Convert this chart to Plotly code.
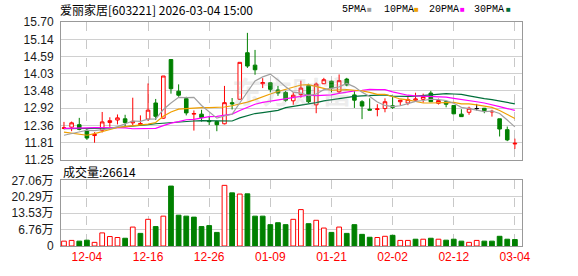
import plotly.graph_objects as go

# ---------------- data ----------------
dates = ["12-01","12-02","12-03","12-04","12-05","12-08","12-09","12-10","12-11","12-12",
         "12-15","12-16","12-17","12-18","12-19","12-22","12-23","12-24","12-25","12-26",
         "12-29","12-30","12-31","01-05","01-06","01-07","01-08","01-09","01-12","01-13",
         "01-14","01-15","01-16","01-19","01-20","01-21","01-22","01-23","01-26","01-27",
         "01-28","01-29","01-30","02-02","02-03","02-04","02-05","02-06","02-09","02-10",
         "02-11","02-12","02-13","02-24","02-25","02-26","02-27","03-02","03-03","03-04"]

opens = [12.27,12.31,12.39,12.21,12.04,12.21,12.46,12.54,12.58,12.45,
         12.39,12.57,13.09,12.60,14.49,13.47,13.23,12.73,12.73,12.52,
         12.49,12.42,13.10,13.21,14.71,14.31,13.71,13.74,13.51,13.43,
         13.16,13.36,13.65,13.03,13.71,13.79,13.45,13.86,13.35,13.13,
         12.89,12.88,12.91,13.00,13.13,13.09,13.18,13.21,13.41,13.08,
         13.13,13.01,12.73,12.79,12.91,12.92,12.80,12.58,12.23,11.77]
highs = [12.48,12.49,12.61,12.25,12.15,12.80,12.63,12.72,12.71,13.26,
         12.69,13.72,13.22,13.96,14.49,13.69,13.29,12.85,12.87,12.66,
         12.52,13.64,13.25,14.40,15.35,14.80,13.89,13.74,13.64,13.48,
         13.44,13.81,13.71,13.75,13.90,13.81,14.01,13.90,13.47,13.18,
         13.24,13.05,13.24,13.28,13.18,13.28,13.42,13.39,13.48,13.23,
         13.13,13.01,12.89,12.97,13.06,12.93,12.87,12.58,12.33,11.94]
lows = [12.24,12.18,12.21,11.90,11.81,12.14,12.32,12.40,12.31,12.38,
        12.35,12.51,12.54,12.58,13.39,13.29,12.69,12.20,12.49,12.38,
        12.18,12.40,12.88,13.19,14.22,14.00,13.57,13.43,13.32,13.13,
        13.03,13.26,13.09,12.76,13.70,13.43,13.40,13.63,12.93,12.57,
        12.86,12.66,12.79,12.90,13.00,13.02,13.16,13.10,13.12,13.04,
        12.95,12.74,12.65,12.71,12.85,12.76,12.65,12.01,11.86,11.61]
closes = [12.29,12.45,12.24,11.96,12.08,12.48,12.52,12.61,12.46,12.50,
          12.43,12.86,12.66,13.96,13.55,13.34,12.77,12.75,12.62,12.49,
          12.39,13.10,13.06,14.40,14.28,14.16,13.75,13.53,13.41,13.18,
          13.34,13.57,13.13,13.70,13.84,13.57,13.81,13.67,13.18,12.99,
          12.86,12.90,13.13,12.95,13.18,13.20,13.22,13.30,13.13,13.17,
          13.05,12.74,12.65,12.92,12.91,12.84,12.82,12.25,11.90,11.79]

ma5 = [12.05,12.10,12.16,12.21,12.20,12.24,12.26,12.33,12.43,12.51,
       12.50,12.57,12.58,12.88,13.09,13.27,13.26,13.27,13.01,12.79,
       12.60,12.67,12.73,13.09,13.45,13.80,13.93,14.02,13.83,13.61,
       13.44,13.41,13.33,13.38,13.52,13.56,13.61,13.72,13.61,13.44,
       13.30,13.12,13.01,12.97,13.00,13.07,13.14,13.17,13.21,13.20,
       13.17,13.08,12.95,12.91,12.85,12.81,12.83,12.75,12.54,12.32]
ma10 = [12.15,12.12,12.09,12.05,12.10,12.16,12.24,12.30,12.33,12.36,
        12.37,12.41,12.46,12.66,12.80,12.89,12.91,12.93,12.94,12.94,
        12.94,12.96,13.00,13.05,13.12,13.20,13.30,13.38,13.46,13.53,
        13.62,13.67,13.68,13.61,13.56,13.50,13.51,13.52,13.50,13.48,
        13.43,13.37,13.37,13.29,13.22,13.19,13.13,13.09,13.09,13.10,
        13.12,13.11,13.06,13.06,13.03,12.99,12.95,12.85,12.73,12.59]
ma20 = [12.27,12.27,12.27,12.29,12.30,12.30,12.30,12.29,12.29,12.26,
        12.26,12.26,12.27,12.36,12.44,12.49,12.55,12.56,12.61,12.65,
        12.66,12.69,12.73,12.85,12.96,13.05,13.11,13.15,13.20,13.23,
        13.28,13.32,13.34,13.33,13.34,13.35,13.40,13.45,13.48,13.50,
        13.53,13.52,13.52,13.45,13.39,13.34,13.32,13.31,13.29,13.29,
        13.28,13.24,13.21,13.17,13.13,13.09,13.04,12.97,12.91,12.85]
ma30 = [12.26,12.26,12.26,12.27,12.27,12.28,12.28,12.30,12.32,12.33,
        12.36,12.39,12.42,12.44,12.47,12.49,12.50,12.51,12.52,12.52,
        12.52,12.51,12.51,12.61,12.69,12.75,12.78,12.81,12.85,12.94,
        12.98,13.02,13.04,13.10,13.16,13.20,13.24,13.28,13.30,13.32,
        13.33,13.33,13.35,13.31,13.30,13.30,13.31,13.33,13.35,13.37,
        13.39,13.38,13.37,13.32,13.27,13.23,13.20,13.15,13.10,13.06]

volumes = [2.0,2.3,2.0,2.4,1.5,5.4,3.9,3.5,3.2,7.8,
           5.2,11.0,8.0,12.3,24.7,12.7,12.3,11.9,8.0,8.4,
           5.6,25.0,21.9,21.4,21.5,12.3,12.3,8.8,9.6,8.8,
           11.0,15.0,9.2,10.6,7.4,5.6,7.8,5.2,8.8,4.8,
           3.6,3.5,4.0,4.4,2.3,2.3,2.8,2.8,3.2,2.8,
           2.4,2.8,2.0,1.5,2.3,2.0,2.0,4.0,2.8,2.66]
vol_dir = list("RRGGRRRRGR" "GRGRGGGGGG" "GRGRGGGGGG" "RRGRRGRGGG" "GRRGRRGRGR" "GGGRRGGGGG")

price_ticks = [11.25, 11.81, 12.36, 12.92, 13.48, 14.03, 14.59, 15.14, 15.70]
price_labels = ["11.25","11.81","12.36","12.92","13.48","14.03","14.59","15.14","15.70"]
vol_ticks = [0, 6.76, 13.53, 20.29, 27.06]
vol_labels = ["0", "6.76万", "13.53万", "20.29万", "27.06万"]
date_ticks = ["12-04","12-16","12-26","01-09","01-21","02-02","02-12","03-04"]

title_text = "爱丽家居[603221] 2026-03-04 15:00"
vol_title = "成交量:26614"
ma_names = ["5PMA", "10PMA", "20PMA", "30PMA"]

# ---------------- style ----------------
RED = "#ff0000"
GREEN = "#008000"
C_MA5, C_MA10, C_MA20, C_MA30 = "#a0a0a0", "#f0a000", "#ff00ff", "#006f3a"
CJK = "Noto Sans CJK SC"
NUM = "Liberation Sans, Arial, sans-serif"
MONO = "Liberation Mono, DejaVu Sans Mono, monospace"

W, H = 578, 276
ML, MR, MT, MB = 57, 56, 22, 22
PW, PH = W - ML - MR, H - MT - MB


def px(x):
    return (x - ML) / PW


def py(y):
    return (H - MB - y) / PH


fig = go.Figure()


def pick(arr, cond):
    return [v if c else None for v, c in zip(arr, cond)]


up = [c > o for o, c in zip(opens, closes)]
dn = [c < o for o, c in zip(opens, closes)]
fl = [c == o for o, c in zip(opens, closes)]

for cond, col, fill in [(up, RED, "white"), (dn, GREEN, GREEN), (fl, "#000000", "#000000")]:
    fig.add_trace(go.Candlestick(
        x=dates, open=pick(opens, cond), high=pick(highs, cond),
        low=pick(lows, cond), close=pick(closes, cond),
        increasing=dict(line=dict(color=col, width=1), fillcolor=fill),
        decreasing=dict(line=dict(color=col, width=1), fillcolor=fill),
        whiskerwidth=0, showlegend=False, hoverinfo="skip",
        xaxis="x", yaxis="y"))

for arr, col in [(ma30, C_MA30), (ma20, C_MA20), (ma10, C_MA10), (ma5, C_MA5)]:
    fig.add_trace(go.Scatter(x=dates, y=arr, mode="lines",
                             line=dict(color=col, width=1.2),
                             showlegend=False, hoverinfo="skip",
                             xaxis="x", yaxis="y"))

fig.add_trace(go.Bar(
    x=dates, y=volumes, width=0.62,
    marker=dict(color=["white" if d == "R" else GREEN for d in vol_dir],
                line=dict(color=[RED if d == "R" else GREEN for d in vol_dir], width=1)),
    showlegend=False, hoverinfo="skip", xaxis="x2", yaxis="y2"))

xr = [-0.39, 59.93]
common_x = dict(type="category", range=xr, tickmode="array", tickvals=date_ticks,
                ticktext=date_ticks, showgrid=True, gridcolor="#c8c8c8", griddash="dash",
                gridwidth=1, showline=True, linecolor="#999999", linewidth=1, mirror=True,
                ticks="", zeroline=False, fixedrange=True)

fig.update_layout(
    width=W, height=H,
    margin=dict(l=ML, r=MR, t=MT, b=MB, pad=0),
    paper_bgcolor="white", plot_bgcolor="white",
    boxgap=0.33,
    xaxis=dict(**common_x, anchor="y", showticklabels=False,
               rangeslider=dict(visible=False)),
    xaxis2=dict(**common_x, anchor="y2", matches="x", showticklabels=True,
                tickfont=dict(family=NUM, size=12, color=RED)),
    yaxis=dict(domain=[py(165), 1], range=[11.25, 15.70], tickmode="array",
               tickvals=price_ticks, ticktext=price_labels, showgrid=True,
               gridcolor="#d0d0d0", gridwidth=1, showline=True, linecolor="#999999",
               mirror=True, ticks="", zeroline=False, ticklabelstandoff=4,
               tickfont=dict(family=NUM, size=12, color="#1a1a1a")),
    yaxis2=dict(domain=[0, py(186)], range=[0, 27.06], tickmode="array",
                tickvals=vol_ticks, ticktext=vol_labels, showgrid=True,
                gridcolor="#d0d0d0", gridwidth=1, showline=True, linecolor="#999999",
                mirror=True, ticks="", zeroline=False, ticklabelstandoff=4,
                tickfont=dict(family=NUM + ", " + CJK, size=12, color="#1a1a1a")),
)

ann = []
ann.append(dict(text=title_text, x=px(54), y=py(9), xref="paper", yref="paper",
                xanchor="left", yanchor="middle", showarrow=False,
                font=dict(family=CJK, size=12, color="#000")))
legend_text_x = [338, 381, 426, 472]
legend_sq_x = [368, 416, 462, 508]
for name, col, tx, sx in zip(ma_names, [C_MA5, C_MA10, C_MA20, C_MA30],
                             legend_text_x, legend_sq_x):
    ann.append(dict(text=name, x=px(tx), y=py(9.5), xref="paper", yref="paper",
                    xanchor="left", yanchor="middle", showarrow=False,
                    font=dict(family=MONO, size=10, color="#000")))
    ann.append(dict(text="■", x=px(sx), y=py(9), xref="paper", yref="paper",
                    xanchor="center", yanchor="middle", showarrow=False,
                    font=dict(family=NUM, size=8, color=col)))
ann.append(dict(text=vol_title, x=px(57), y=py(177), xref="paper", yref="paper",
                xanchor="left", yanchor="middle", showarrow=False,
                font=dict(family=CJK, size=12, color="#000")))
ann.append(dict(text="<b>东方财富</b>", x=px(290), y=py(92), xref="paper", yref="paper",
                xanchor="center", yanchor="middle", showarrow=False,
                font=dict(family=CJK, size=30, color="rgba(170,170,170,0.22)")))
fig.update_layout(annotations=ann)

fig.write_html("out.html")
